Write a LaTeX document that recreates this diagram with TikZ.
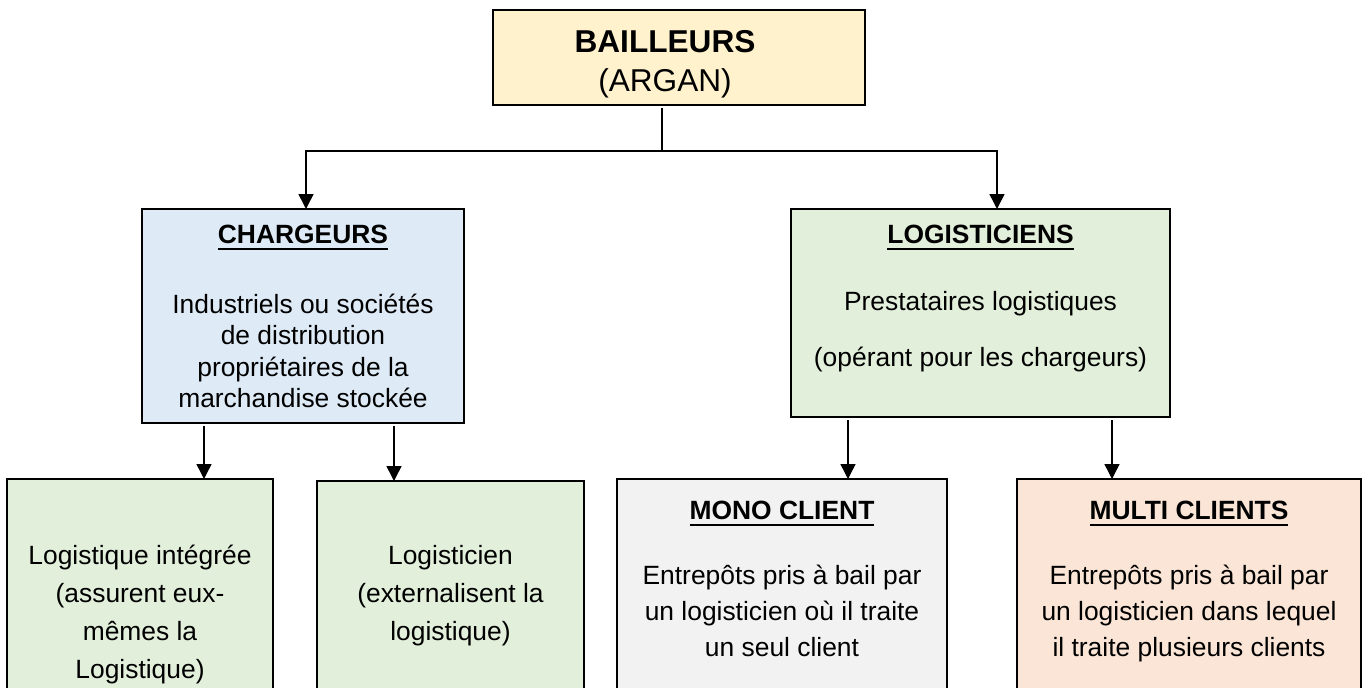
\documentclass[tikz,border=0pt]{standalone}
\usepackage{fontspec}
\setmainfont{Liberation Sans}
\usetikzlibrary{arrows.meta}

\definecolor{fillTop}{HTML}{FFF2CC}
\definecolor{fillBlue}{HTML}{DEEBF7}
\definecolor{fillGreen}{HTML}{E2EFDA}
\definecolor{fillGrey}{HTML}{F2F2F2}
\definecolor{fillPeach}{HTML}{FBE5D6}

\begin{document}
\begin{tikzpicture}[x=1pt,y=-1pt,
  box/.style={draw=black, line width=1.5pt, anchor=north west,
              inner sep=0pt, outer sep=0pt},
  txt/.style={anchor=base, inner sep=0pt, outer sep=0pt,
              font=\fontsize{26.4}{30}\selectfont},
  ttl/.style={txt, font=\fontsize{26.4}{30}\selectfont\bfseries},
  big/.style={anchor=base, inner sep=0pt, outer sep=0pt,
              font=\fontsize{31.6}{38}\selectfont},
  link/.style={line width=1.5pt},
  arr/.style={link, -{Triangle[length=15pt,width=15pt]}},
  uline/.style={line width=2pt}]

\useasboundingbox (0,0) rectangle (1368,688);
\clip (0,0) rectangle (1368,688);

% boxes
\node[box, fill=fillTop,   minimum width=372pt, minimum height=95pt]  (bail) at (493,10) {};
\node[box, fill=fillBlue,  minimum width=322pt, minimum height=214pt] (char) at (142,209) {};
\node[box, fill=fillGreen, minimum width=379pt, minimum height=208pt] (logi) at (791,209) {};
\node[box, fill=fillGreen, minimum width=266pt, minimum height=240pt] (inte) at (7,479) {};
\node[box, fill=fillGreen, minimum width=267pt, minimum height=240pt] (exte) at (317,481) {};
\node[box, fill=fillGrey,  minimum width=330pt, minimum height=240pt] (mono) at (617,479) {};
\node[box, fill=fillPeach, minimum width=344pt, minimum height=240pt] (mult) at (1017,479) {};

% top box text
\node[big, font=\fontsize{31.6}{38}\selectfont\bfseries] (bailT) at (665,52) {BAILLEURS};
\node[big] (bailS) at (665,91) {(ARGAN)};

% CHARGEURS
\node[ttl] (charT) at (303,243) {CHARGEURS};
\draw[uline] ([yshift=-6pt]charT.base west) -- ([yshift=-6pt]charT.base east);
\node[txt] (char1) at (303,313) {Industriels ou sociétés};
\node[txt] (char2) at (303,344.5) {de distribution};
\node[txt] (char3) at (303,376) {propriétaires de la};
\node[txt] (char4) at (303,407.5) {marchandise stockée};

% LOGISTICIENS
\node[ttl] (logiT) at (980.5,243) {LOGISTICIENS};
\draw[uline] ([yshift=-6pt]logiT.base west) -- ([yshift=-6pt]logiT.base east);
\node[txt] (logi1) at (980.5,310) {Prestataires logistiques};
\node[txt] (logi2) at (980.5,366) {(opérant pour les chargeurs)};

% Logistique intégrée
\node[txt] (inte1) at (140,564) {Logistique intégrée};
\node[txt] (inte2) at (140,602) {(assurent eux-};
\node[txt] (inte3) at (140,640) {mêmes la};
\node[txt] (inte4) at (140,678) {Logistique)};

% Logisticien
\node[txt] (exte1) at (450.5,564) {Logisticien};
\node[txt] (exte2) at (450.5,602) {(externalisent la};
\node[txt] (exte3) at (450.5,640) {logistique)};

% MONO CLIENT
\node[ttl] (monoT) at (782,519) {MONO CLIENT};
\draw[uline] ([yshift=-6pt]monoT.base west) -- ([yshift=-6pt]monoT.base east);
\node[txt] (mono1) at (782,584) {Entrepôts pris à bail par};
\node[txt] (mono2) at (782,620) {un logisticien où il traite};
\node[txt] (mono3) at (782,656) {un seul client};

% MULTI CLIENTS
\node[ttl] (multT) at (1189,519) {MULTI CLIENTS};
\draw[uline] ([yshift=-6pt]multT.base west) -- ([yshift=-6pt]multT.base east);
\node[txt] (mult1) at (1189,584) {Entrepôts pris à bail par};
\node[txt] (mult2) at (1189,620) {un logisticien dans lequel};
\node[txt] (mult3) at (1189,656) {il traite plusieurs clients};

% connector columns
\coordinate (split) at (662,151);
\coordinate (colA) at (306,0);
\coordinate (colB) at (997,0);
\coordinate (colC) at (204,0);
\coordinate (colD) at (394,0);
\coordinate (colE) at (848,0);
\coordinate (colF) at (1112,0);

% connectors
\draw[link, shorten <=3pt] (bail.south -| split) -- (split);
\draw[arr] (split) -| (char.north -| colA);
\draw[arr] (split) -| (logi.north -| colB);
\draw[arr, shorten <=3pt] (char.south -| colC) -- (inte.north -| colC);
\draw[arr, shorten <=3pt] (char.south -| colD) -- (exte.north -| colD);
\draw[arr, shorten <=3pt] (logi.south -| colE) -- (mono.north -| colE);
\draw[arr, shorten <=3pt] (logi.south -| colF) -- (mult.north -| colF);

\end{tikzpicture}
\end{document}
